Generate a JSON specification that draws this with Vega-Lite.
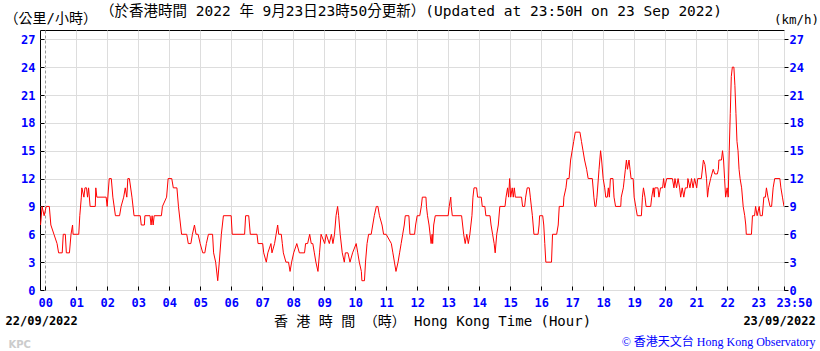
{
  "$schema": "https://vega.github.io/schema/vega-lite/v6.json",
  "width": 744,
  "height": 260,
  "autosize": "none",
  "padding": {"left": 40, "top": 30, "right": 36, "bottom": 61},
  "background": "white",
  "config": {"view": {"stroke": "#000000", "strokeWidth": 1}},
  "title": {
    "text": "（於香港時間 2022 年  9月23日23時50分更新）(Updated at 23:50H on 23 Sep 2022)",
    "anchor": "start",
    "frame": "group",
    "dx": 60,
    "dy": 5,
    "offset": -10,
    "baseline": "middle",
    "font": "DejaVu Sans Mono, Noto Sans CJK TC",
    "fontSize": 14.5,
    "fontWeight": "normal",
    "color": "#000000"
  },
  "data": {"values": [
    {"t":-9,"v":7},{"t":-6,"v":9},{"t":-2,"v":8},{"t":2,"v":9},{"t":8,"v":9},{"t":11,"v":7},{"t":17,"v":6},{"t":23,"v":5},{"t":26,"v":4},{"t":33,"v":4},{"t":35,"v":6},{"t":39,"v":6},{"t":41,"v":4},{"t":47,"v":4},{"t":50,"v":6},{"t":53,"v":7},{"t":54,"v":6},{"t":65,"v":6},{"t":67,"v":8},{"t":70,"v":10},{"t":71,"v":11},{"t":75,"v":10},{"t":77,"v":11},{"t":80,"v":11},{"t":82,"v":10},{"t":84,"v":11},{"t":87,"v":9},{"t":97,"v":9},{"t":98,"v":11},{"t":100,"v":10},{"t":118,"v":10},{"t":120,"v":9},{"t":124,"v":12},{"t":128,"v":12},{"t":131,"v":10},{"t":136,"v":8},{"t":144,"v":8},{"t":147,"v":9},{"t":152,"v":10},{"t":155,"v":11},{"t":158,"v":10},{"t":160,"v":12},{"t":163,"v":12},{"t":168,"v":10},{"t":172,"v":8},{"t":184,"v":8},{"t":186,"v":7},{"t":192,"v":7},{"t":193,"v":8},{"t":203,"v":8},{"t":205,"v":7},{"t":207,"v":8},{"t":209,"v":7},{"t":211,"v":8},{"t":225,"v":8},{"t":227,"v":9},{"t":235,"v":10},{"t":238,"v":12},{"t":245,"v":12},{"t":248,"v":11},{"t":255,"v":11},{"t":258,"v":9},{"t":264,"v":6},{"t":274,"v":6},{"t":277,"v":5},{"t":282,"v":5},{"t":285,"v":6},{"t":289,"v":7},{"t":292,"v":6},{"t":296,"v":6},{"t":300,"v":5},{"t":305,"v":4},{"t":309,"v":4},{"t":312,"v":5},{"t":316,"v":6},{"t":324,"v":6},{"t":326,"v":4},{"t":330,"v":3},{"t":334,"v":1},{"t":337,"v":3},{"t":341,"v":6},{"t":345,"v":8},{"t":360,"v":8},
    {"t":362,"v":6},{"t":386,"v":6},{"t":388,"v":8},{"t":394,"v":8},{"t":397,"v":6},{"t":410,"v":6},{"t":412,"v":5},{"t":421,"v":5},{"t":423,"v":4},{"t":428,"v":3},{"t":431,"v":4},{"t":437,"v":5},{"t":439,"v":4},{"t":444,"v":5},{"t":447,"v":6},{"t":450,"v":7},{"t":452,"v":6},{"t":457,"v":6},{"t":459,"v":5},{"t":461,"v":4},{"t":466,"v":3},{"t":471,"v":3},{"t":474,"v":2},{"t":477,"v":3},{"t":481,"v":4},{"t":487,"v":5},{"t":492,"v":4},{"t":502,"v":4},{"t":504,"v":5},{"t":508,"v":5},{"t":512,"v":6},{"t":515,"v":5},{"t":518,"v":5},{"t":521,"v":4},{"t":524,"v":3},{"t":528,"v":2},{"t":531,"v":4},{"t":534,"v":6},{"t":541,"v":5},{"t":544,"v":6},{"t":550,"v":5},{"t":554,"v":6},{"t":557,"v":5},{"t":560,"v":6},{"t":563,"v":8},{"t":566,"v":9},{"t":568,"v":8},{"t":571,"v":6},{"t":575,"v":4},{"t":579,"v":3},{"t":581,"v":4},{"t":586,"v":4},{"t":590,"v":3},{"t":595,"v":4},{"t":602,"v":5},{"t":605,"v":4},{"t":608,"v":3},{"t":612,"v":2},{"t":613,"v":1},{"t":618,"v":1},{"t":620,"v":3},{"t":623,"v":5},{"t":626,"v":6},{"t":631,"v":6},{"t":634,"v":7},{"t":637,"v":8},{"t":641,"v":9},{"t":644,"v":9},{"t":647,"v":8},{"t":652,"v":7},{"t":655,"v":6},{"t":660,"v":6},{"t":670,"v":5},{"t":673,"v":4},{"t":676,"v":3},{"t":679,"v":2},{"t":683,"v":3},{"t":686,"v":4},{"t":689,"v":5},{"t":692,"v":6},{"t":695,"v":7},{"t":697,"v":8},{"t":704,"v":8},{"t":706,"v":6},
    {"t":715,"v":6},{"t":717,"v":7},{"t":720,"v":8},{"t":725,"v":8},{"t":728,"v":9},{"t":730,"v":10},{"t":737,"v":10},{"t":738,"v":9},{"t":740,"v":8},{"t":743,"v":7},{"t":745,"v":6},{"t":747,"v":5},{"t":749,"v":6},{"t":750,"v":5},{"t":752,"v":7},{"t":755,"v":8},{"t":780,"v":8},{"t":782,"v":9},{"t":785,"v":10},{"t":786,"v":9},{"t":788,"v":8},{"t":806,"v":8},{"t":808,"v":7},{"t":810,"v":6},{"t":813,"v":5},{"t":816,"v":6},{"t":819,"v":5},{"t":822,"v":6},{"t":824,"v":7},{"t":826,"v":8},{"t":828,"v":10},{"t":830,"v":11},{"t":835,"v":11},{"t":837,"v":10},{"t":844,"v":10},{"t":846,"v":9},{"t":851,"v":9},{"t":853,"v":8},{"t":861,"v":8},{"t":863,"v":7},{"t":866,"v":6},{"t":869,"v":5},{"t":871,"v":4},{"t":874,"v":6},{"t":877,"v":7},{"t":880,"v":9},{"t":890,"v":9},{"t":892,"v":10},{"t":895,"v":11},{"t":897,"v":10},{"t":899,"v":12},{"t":901,"v":10},{"t":904,"v":11},{"t":906,"v":10},{"t":908,"v":11},{"t":910,"v":10},{"t":922,"v":10},{"t":924,"v":9},{"t":928,"v":9},{"t":930,"v":10},{"t":933,"v":11},{"t":937,"v":11},{"t":939,"v":10},{"t":943,"v":8},{"t":946,"v":6},{"t":954,"v":6},{"t":956,"v":7},{"t":957,"v":8},{"t":963,"v":8},{"t":965,"v":7},{"t":967,"v":5},{"t":969,"v":3},{"t":980,"v":3},{"t":982,"v":6},{"t":990,"v":6},{"t":993,"v":7},{"t":995,"v":9},{"t":1003,"v":9},{"t":1004,"v":10},{"t":1008,"v":11},{"t":1010,"v":12},{"t":1014,"v":12},{"t":1017,"v":14},{"t":1020,"v":15},{"t":1023,"v":16},{"t":1026,"v":17},{"t":1035,"v":17},{"t":1038,"v":16},{"t":1041,"v":15},{"t":1044,"v":14},{"t":1048,"v":13},{"t":1051,"v":12},{"t":1059,"v":12},{"t":1062,"v":10},{"t":1064,"v":9},{"t":1066,"v":9},{"t":1068,"v":10},{"t":1072,"v":13},{"t":1075,"v":15},{"t":1077,"v":14},{"t":1080,"v":12},{"t":1083,"v":11},{"t":1085,"v":10},{"t":1088,"v":10},{"t":1090,"v":11},
    {"t":1092,"v":10},{"t":1094,"v":12},{"t":1099,"v":12},{"t":1101,"v":10},{"t":1104,"v":9},{"t":1114,"v":9},{"t":1115,"v":10},{"t":1119,"v":11},{"t":1121,"v":12},{"t":1123,"v":13},{"t":1125,"v":14},{"t":1127,"v":13},{"t":1130,"v":14},{"t":1132,"v":13},{"t":1134,"v":12},{"t":1138,"v":12},{"t":1140,"v":10},{"t":1143,"v":9},{"t":1146,"v":8},{"t":1154,"v":8},{"t":1156,"v":10},{"t":1158,"v":11},{"t":1161,"v":10},{"t":1163,"v":9},{"t":1172,"v":9},{"t":1174,"v":10},{"t":1177,"v":11},{"t":1179,"v":10},{"t":1180,"v":11},{"t":1186,"v":11},{"t":1188,"v":10},{"t":1191,"v":11},{"t":1195,"v":11},{"t":1197,"v":12},{"t":1199,"v":11},{"t":1203,"v":12},{"t":1214,"v":12},{"t":1217,"v":11},{"t":1219,"v":12},{"t":1222,"v":11},{"t":1225,"v":12},{"t":1228,"v":11},{"t":1230,"v":10},{"t":1233,"v":11},{"t":1236,"v":10},{"t":1239,"v":11},{"t":1243,"v":11},{"t":1244,"v":12},{"t":1248,"v":11},{"t":1251,"v":12},{"t":1254,"v":11},{"t":1257,"v":12},{"t":1261,"v":11},{"t":1263,"v":12},{"t":1270,"v":12},{"t":1274,"v":14},{"t":1277,"v":13.5},{"t":1280,"v":12},{"t":1282,"v":10},{"t":1284,"v":11},{"t":1288,"v":12},{"t":1293,"v":13},{"t":1296,"v":12.5},{"t":1301,"v":12.5},{"t":1303,"v":13},{"t":1304,"v":14},{"t":1309,"v":14},{"t":1311,"v":15},{"t":1313,"v":14},{"t":1315,"v":12},{"t":1317,"v":10},{"t":1320,"v":11},{"t":1322,"v":10},{"t":1324,"v":15},{"t":1326,"v":19},{"t":1328,"v":23},{"t":1330,"v":24},{"t":1333,"v":24},{"t":1335,"v":22},{"t":1337,"v":19},{"t":1339,"v":16},{"t":1341,"v":15},{"t":1343,"v":13},{"t":1345,"v":12},{"t":1348,"v":11},{"t":1351,"v":9},{"t":1354,"v":8},{"t":1356,"v":7},{"t":1357,"v":6},{"t":1367,"v":6},{"t":1369,"v":8},{"t":1373,"v":8},{"t":1375,"v":9},{"t":1378,"v":8},{"t":1382,"v":9},{"t":1384,"v":8},{"t":1388,"v":8},{"t":1391,"v":10},{"t":1394,"v":10},{"t":1396,"v":11},{"t":1399,"v":10},{"t":1403,"v":9},{"t":1406,"v":9},{"t":1409,"v":11},{"t":1412,"v":12},{"t":1422,"v":12},{"t":1424,"v":11},{"t":1427,"v":10},{"t":1430,"v":9}
  ]},
  "resolve": {"axis": {"x": "independent", "y": "independent"}},
  "layer": [
    {
      "mark": {"type": "line", "color": "#ff0000", "strokeWidth": 1, "clip": true},
      "encoding": {
        "x": {
          "field": "t", "type": "quantitative",
          "scale": {"domain": [-10, 1430], "nice": false, "zero": false},
          "axis": {
            "orient": "bottom",
            "values": [0,60,120,180,240,300,360,420,480,540,600,660,720,780,840,900,960,1020,1080,1140,1200,1260,1320,1380,1430],
            "labelExpr": "datum.value == 1430 ? '23:50' : (datum.value < 600 ? '0' : '') + (datum.value / 60)",
            "labelFont": "DejaVu Sans Mono", "labelFontSize": 12, "labelFontWeight": "bold", "labelColor": "#0000ff",
            "labelPadding": 11, "labelFlush": false, "labelOverlap": false, "labelBound": false,
            "labelOffset": {"condition": {"test": "datum.value == 1430", "value": 10}, "value": 0},
            "tickSize": -4, "tickColor": "#000000", "domain": false,
            "grid": true, "gridColor": {"condition": {"test": "datum.value == 0", "value": "#999999"}, "value": "#dddddd"},
            "gridDash": {"condition": {"test": "datum.value == 0", "value": [3, 2]}, "value": []},
            "title": "香 港 時 間 （時） Hong Kong Time (Hour)",
            "titleFont": "DejaVu Sans Mono, Noto Sans CJK TC", "titleFontSize": 14, "titleFontWeight": "normal", "titleColor": "#000000",
            "titleAlign": "center", "titleBaseline": "middle", "titleX": 392, "titleY": 31
          }
        },
        "y": {
          "field": "v", "type": "quantitative",
          "scale": {"domain": [0, 28], "nice": false, "zero": true},
          "axis": {
            "orient": "left",
            "values": [0,3,6,9,12,15,18,21,24,27],
            "labelFont": "DejaVu Sans Mono", "labelFontSize": 12, "labelFontWeight": "bold", "labelColor": "#0000ff",
            "labelPadding": 9, "tickSize": -4, "tickColor": "#000000", "domain": false,
            "grid": true, "gridColor": "#dddddd",
            "title": "（公里/小時）", "titleAngle": 0, "titleAlign": "left", "titleBaseline": "middle",
            "titleX": -36, "titleY": -12,
            "titleFont": "DejaVu Sans Mono, Noto Sans CJK TC", "titleFontSize": 14, "titleFontWeight": "normal", "titleColor": "#000000"
          }
        }
      }
    },
    {
      "mark": {"type": "line", "strokeOpacity": 0},
      "encoding": {
        "x": {
          "field": "t", "type": "quantitative",
          "axis": {
            "orient": "bottom", "values": [0, 1430],
            "labelExpr": "datum.value == 0 ? '22/09/2022' : '23/09/2022'",
            "labelFont": "DejaVu Sans Mono", "labelFontSize": 12, "labelFontWeight": "bold", "labelColor": "#000000",
            "ticks": false, "domain": false, "grid": false,
            "labelPadding": 25, "labelFlush": false, "labelOverlap": false, "labelBound": false,
            "labelOffset": {"condition": {"test": "datum.value == 0", "value": -4}, "value": -5},
            "title": "© 香港天文台 Hong Kong Observatory",
            "titleFont": "Liberation Serif, Noto Sans CJK TC", "titleFontSize": 12, "titleFontWeight": "normal", "titleColor": "#0000ff",
            "titleAlign": "right", "titleBaseline": "middle", "titleX": 775, "titleY": 51
          }
        },
        "y": {
          "field": "v", "type": "quantitative",
          "axis": {
            "orient": "right",
            "values": [0,3,6,9,12,15,18,21,24,27],
            "labelFont": "DejaVu Sans Mono", "labelFontSize": 12, "labelFontWeight": "bold", "labelColor": "#0000ff",
            "labelPadding": 1, "tickSize": 4, "tickColor": "#000000", "domain": false, "grid": false,
            "title": "(km/h)", "titleAngle": 0, "titleAlign": "center", "titleBaseline": "middle",
            "titleX": 12, "titleY": -11,
            "titleFont": "DejaVu Sans Mono", "titleFontSize": 12.5, "titleFontWeight": "normal", "titleColor": "#000000"
          }
        }
      }
    },
    {
      "mark": {"type": "line", "strokeOpacity": 0},
      "encoding": {
        "x": {
          "field": "t", "type": "quantitative",
          "axis": {
            "orient": "bottom", "labels": false, "ticks": false, "domain": false, "grid": false,
            "title": "KPC", "titleFont": "DejaVu Sans", "titleFontSize": 10, "titleFontWeight": "bold", "titleColor": "#cccccc",
            "titleAlign": "left", "titleBaseline": "middle", "titleX": -32, "titleY": 54
          }
        },
        "y": {"field": "v", "type": "quantitative", "axis": null}
      }
    }
  ]
}
